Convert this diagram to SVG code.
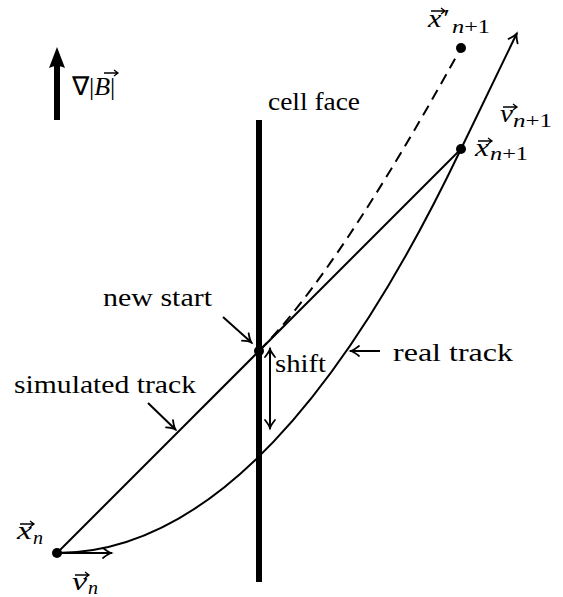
<svg xmlns="http://www.w3.org/2000/svg" width="563" height="597" viewBox="0 0 563 597">
<style>
.t{font-family:"Liberation Serif","Times New Roman",serif;font-size:26px;fill:#000}
.m{font-style:italic}
.s{font-size:19px}
.ln{fill:none;stroke:#000;stroke-width:2}
.acc{fill:none;stroke:#000;stroke-width:1.3}
</style>
<defs>
<marker id="ah" markerUnits="userSpaceOnUse" markerWidth="16" markerHeight="14" refX="1" refY="0" viewBox="-10 -7 12 14" orient="auto-start-reverse" overflow="visible">
<path d="M-8,-5 Q-3,-1 0,0 Q-3,1 -8,5" fill="none" stroke="#000" stroke-width="1.8" stroke-linecap="round"/>
</marker>
</defs>
<rect width="563" height="597" fill="#fff"/>

<g id="gradient">
<rect x="54" y="66" width="6" height="54" fill="#000"/>
<path d="M57,47 L65,68 Q57,64 49,68 Z" fill="#000"/>
<text class="t" x="72" y="95">∇|<tspan class="m">B</tspan>|</text>
<path class="acc" d="M104,73 H118 M114,70 L118,73 L114,76"/>
</g>

<g id="cellface">
<rect x="256" y="120" width="6" height="462" fill="#000"/>
<text class="t" x="268" y="110" textLength="92" lengthAdjust="spacingAndGlyphs">cell face</text>
</g>

<g id="connectors">
<path id="real-track" class="ln" d="M57,553 Q268,553 461,149"/>
<line id="simulated-track" class="ln" x1="57" y1="553" x2="461" y2="149"/>
<path id="dashed-track" class="ln" stroke-dasharray="11 7" d="M259,351 Q337,273 461,48"/>
<line id="v-next" class="ln" x1="461" y1="149" x2="517" y2="33" marker-end="url(#ah)"/>
<line id="v-n" class="ln" x1="57" y1="553" x2="112" y2="553" marker-end="url(#ah)"/>
<line id="ptr-new-start" class="ln" x1="223" y1="317" x2="252" y2="343" marker-end="url(#ah)"/>
<line id="ptr-sim" class="ln" x1="148" y1="403" x2="176" y2="430" marker-end="url(#ah)"/>
<line id="ptr-real" class="ln" x1="380" y1="351" x2="350" y2="351" marker-end="url(#ah)"/>
<line id="shift-arrow" class="ln" x1="270" y1="348" x2="270" y2="429" marker-start="url(#ah)" marker-end="url(#ah)"/>
</g>

<g id="xn">
<circle cx="57" cy="553" r="5"/>
<text class="t m" x="17" y="539" textLength="15" lengthAdjust="spacingAndGlyphs">x</text>
<path class="acc" d="M20,524 H34 M30,521 L34,524 L30,527"/>
<text class="t m s" x="33" y="544" textLength="10" lengthAdjust="spacingAndGlyphs">n</text>
</g>

<g id="vn">
<text class="t m" x="72" y="590" textLength="15" lengthAdjust="spacingAndGlyphs">v</text>
<path class="acc" d="M75,575 H89 M85,572 L89,575 L85,578"/>
<text class="t m s" x="88" y="594" textLength="10" lengthAdjust="spacingAndGlyphs">n</text>
</g>

<g id="new-start">
<circle cx="259" cy="351" r="5"/>
<text class="t" x="103" y="306" textLength="109" lengthAdjust="spacingAndGlyphs">new start</text>
</g>

<g id="simulated-label">
<text class="t" x="14" y="393" textLength="182" lengthAdjust="spacingAndGlyphs">simulated track</text>
</g>

<g id="shift-label">
<text class="t" x="275" y="372" textLength="51" lengthAdjust="spacingAndGlyphs">shift</text>
</g>

<g id="real-label">
<text class="t" x="393" y="361" textLength="120" lengthAdjust="spacingAndGlyphs">real track</text>
</g>

<g id="xnext">
<circle cx="461" cy="149" r="5"/>
<text class="t m" x="475" y="156" textLength="14" lengthAdjust="spacingAndGlyphs">x</text>
<path class="acc" d="M478,141 H492 M488,138 L492,141 L488,144"/>
<text class="t s" x="490" y="160" textLength="38" lengthAdjust="spacingAndGlyphs"><tspan class="m">n</tspan>+1</text>
</g>

<g id="vnext">
<text class="t m" x="500" y="122" textLength="13" lengthAdjust="spacingAndGlyphs">v</text>
<path class="acc" d="M503,107 H517 M513,104 L517,107 L513,110"/>
<text class="t s" x="513" y="127" textLength="39" lengthAdjust="spacingAndGlyphs"><tspan class="m">n</tspan>+1</text>
</g>

<g id="xprime">
<circle cx="461" cy="48" r="5"/>
<text class="t m" x="428" y="27" textLength="20" lengthAdjust="spacingAndGlyphs">x′</text>
<path class="acc" d="M431,11 H445 M441,8 L445,11 L441,14"/>
<text class="t s" x="452" y="33" textLength="38" lengthAdjust="spacingAndGlyphs"><tspan class="m">n</tspan>+1</text>
</g>
</svg>
